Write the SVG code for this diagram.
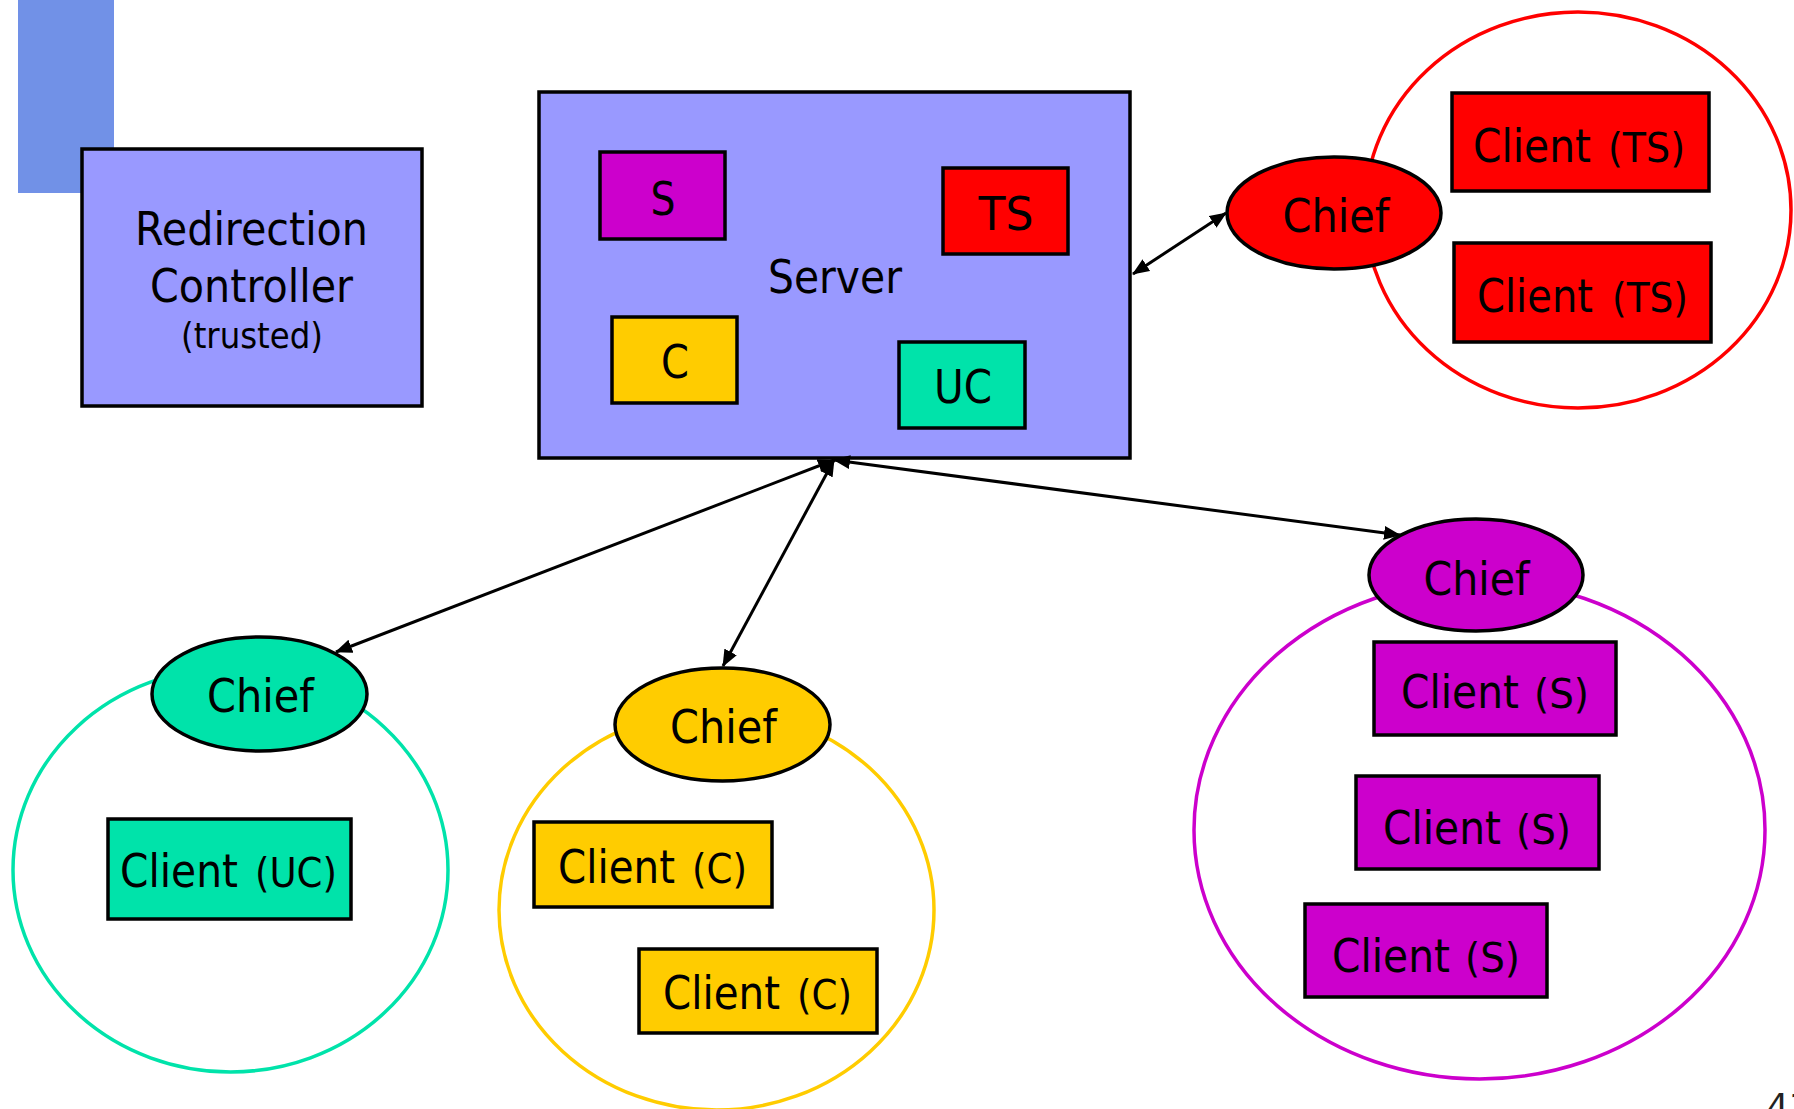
<svg xmlns="http://www.w3.org/2000/svg" width="1794" height="1109" viewBox="0 0 1794 1109">
<style>
.bx{stroke:#000;stroke-width:3.5}
.lav{fill:#9999FF}
.mag{fill:#CC00CC}
.red{fill:#FF0000}
.yel{fill:#FFCC00}
.tea{fill:#00E3AA}
.grp{fill:none;stroke-width:3.5}
.t{font-family:"DejaVu Sans",Verdana,sans-serif;font-size:47px;fill:#000}
.sm{font-size:40px}
.conn{stroke:#000;stroke-width:3;fill:none;marker-start:url(#ah);marker-end:url(#ah)}
</style>
<defs>
<marker id="ah" markerUnits="userSpaceOnUse" markerWidth="18" markerHeight="14" refX="16" refY="7" orient="auto-start-reverse" viewBox="0 0 18 14">
<path d="M0,0 L17,7 L0,14 Z" fill="#000"/>
</marker>
</defs>
<rect x="0" y="0" width="1794" height="1109" fill="#fff"/>
<rect id="deco" x="18" y="0" width="96" height="193" fill="#7191E7"/>

<g id="cluster-ts"><ellipse class="grp" cx="1578" cy="210" rx="213" ry="198" stroke="#FF0000"/></g>
<g id="cluster-uc"><ellipse class="grp" cx="230.5" cy="870" rx="217.5" ry="202" stroke="#00E3AA"/></g>
<g id="cluster-c"><ellipse class="grp" cx="716.5" cy="910" rx="217.5" ry="200" stroke="#FFCC00"/></g>
<g id="cluster-s"><ellipse class="grp" cx="1479.5" cy="830" rx="285.5" ry="249" stroke="#CC00CC"/></g>

<g id="redirection-controller">
<rect class="bx lav" x="82" y="149" width="340" height="257"/>
<text class="t" x="135" y="245" textLength="233" lengthAdjust="spacingAndGlyphs">Redirection</text>
<text class="t" x="150" y="302" textLength="203" lengthAdjust="spacingAndGlyphs">Controller</text>
<text class="t" x="181" y="348" textLength="142" lengthAdjust="spacingAndGlyphs" style="font-size:36px">(trusted)</text>
</g>

<g id="server">
<rect class="bx lav" x="539" y="92" width="591" height="366"/>
<text class="t" x="768" y="293" textLength="134" lengthAdjust="spacingAndGlyphs">Server</text>
</g>
<g id="server-s"><rect class="bx mag" x="600" y="152" width="125" height="87"/>
<text class="t" x="650.5" y="215" textLength="25" lengthAdjust="spacingAndGlyphs">S</text></g>
<g id="server-ts"><rect class="bx red" x="943" y="168" width="125" height="86"/>
<text class="t" x="978.5" y="230" textLength="55" lengthAdjust="spacingAndGlyphs">TS</text></g>
<g id="server-c"><rect class="bx yel" x="612" y="317" width="125" height="86"/>
<text class="t" x="661" y="378" textLength="28" lengthAdjust="spacingAndGlyphs">C</text></g>
<g id="server-uc"><rect class="bx tea" x="899" y="342" width="126" height="86"/>
<text class="t" x="934" y="403" textLength="58" lengthAdjust="spacingAndGlyphs">UC</text></g>

<g id="chief-ts"><ellipse class="bx red" cx="1334" cy="213" rx="107" ry="56"/>
<text class="t" x="1282.5" y="232" textLength="107" lengthAdjust="spacingAndGlyphs">Chief</text></g>
<g id="client-ts-1"><rect class="bx red" x="1452" y="93" width="257" height="98"/>
<text class="t" y="162"><tspan x="1473" textLength="118" lengthAdjust="spacingAndGlyphs">Client</tspan> <tspan class="sm" x="1608" textLength="77" lengthAdjust="spacingAndGlyphs">(TS)</tspan></text></g>
<g id="client-ts-2"><rect class="bx red" x="1454" y="243" width="257" height="99"/>
<text class="t" y="312"><tspan x="1477" textLength="116" lengthAdjust="spacingAndGlyphs">Client</tspan> <tspan class="sm" x="1612" textLength="76" lengthAdjust="spacingAndGlyphs">(TS)</tspan></text></g>

<g id="chief-uc"><ellipse class="bx tea" cx="259.5" cy="694" rx="107.5" ry="57"/>
<text class="t" x="207" y="712" textLength="107" lengthAdjust="spacingAndGlyphs">Chief</text></g>
<g id="client-uc"><rect class="bx tea" x="108" y="819" width="243" height="100"/>
<text class="t" y="887"><tspan x="120" textLength="118" lengthAdjust="spacingAndGlyphs">Client</tspan> <tspan class="sm" x="255" textLength="82" lengthAdjust="spacingAndGlyphs">(UC)</tspan></text></g>

<g id="chief-c"><ellipse class="bx yel" cx="722.5" cy="724.5" rx="107.5" ry="56.5"/>
<text class="t" x="670" y="743" textLength="107" lengthAdjust="spacingAndGlyphs">Chief</text></g>
<g id="client-c-1"><rect class="bx yel" x="534" y="822" width="238" height="85"/>
<text class="t" y="883"><tspan x="558" textLength="117" lengthAdjust="spacingAndGlyphs">Client</tspan> <tspan class="sm" x="692" textLength="55" lengthAdjust="spacingAndGlyphs">(C)</tspan></text></g>
<g id="client-c-2"><rect class="bx yel" x="639" y="949" width="238" height="84"/>
<text class="t" y="1009"><tspan x="663" textLength="117" lengthAdjust="spacingAndGlyphs">Client</tspan> <tspan class="sm" x="797" textLength="55" lengthAdjust="spacingAndGlyphs">(C)</tspan></text></g>

<g id="chief-s"><ellipse class="bx mag" cx="1476" cy="575" rx="107" ry="56"/>
<text class="t" x="1423.5" y="595" textLength="106" lengthAdjust="spacingAndGlyphs">Chief</text></g>
<g id="client-s-1"><rect class="bx mag" x="1374" y="642" width="242" height="93"/>
<text class="t" y="708"><tspan x="1401" textLength="118" lengthAdjust="spacingAndGlyphs">Client</tspan> <tspan class="sm" x="1534" textLength="55" lengthAdjust="spacingAndGlyphs">(S)</tspan></text></g>
<g id="client-s-2"><rect class="bx mag" x="1356" y="776" width="243" height="93"/>
<text class="t" y="844"><tspan x="1383" textLength="118" lengthAdjust="spacingAndGlyphs">Client</tspan> <tspan class="sm" x="1516" textLength="55" lengthAdjust="spacingAndGlyphs">(S)</tspan></text></g>
<g id="client-s-3"><rect class="bx mag" x="1305" y="904" width="242" height="93"/>
<text class="t" y="972"><tspan x="1332" textLength="118" lengthAdjust="spacingAndGlyphs">Client</tspan> <tspan class="sm" x="1465" textLength="55" lengthAdjust="spacingAndGlyphs">(S)</tspan></text></g>

<g id="connectors">
<line class="conn" x1="1133" y1="274" x2="1226" y2="213"/>
<line class="conn" x1="834" y1="460" x2="336" y2="652"/>
<line class="conn" x1="834" y1="460" x2="723" y2="666"/>
<line class="conn" x1="834" y1="460" x2="1400" y2="535"/>
</g>

<text x="1767" y="1118" style="font-family:'DejaVu Sans',sans-serif;font-size:34px;fill:#222">41</text>
</svg>
